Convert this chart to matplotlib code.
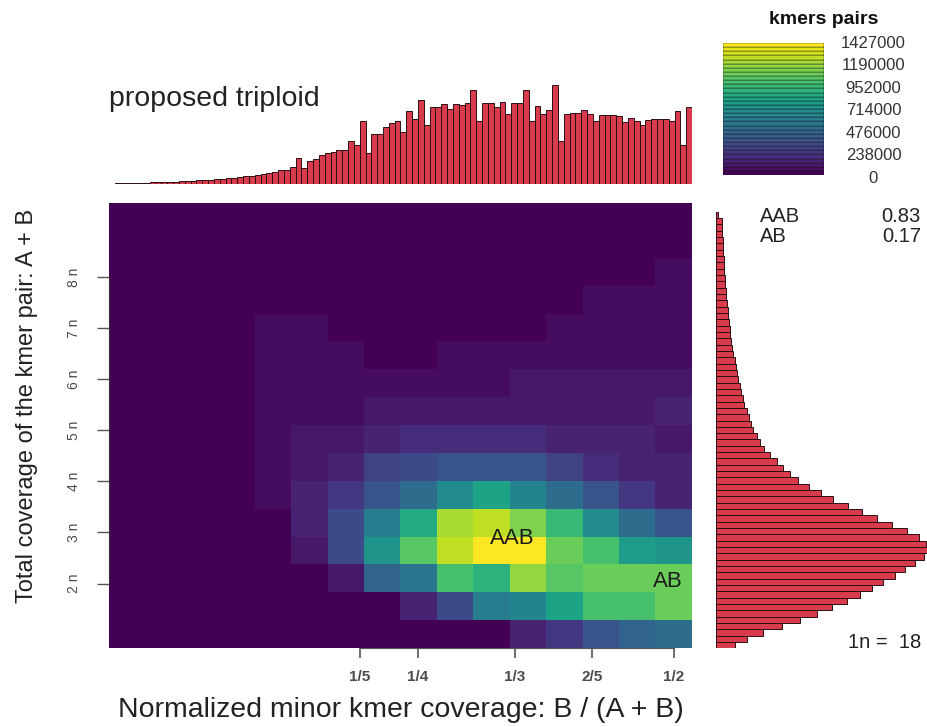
import numpy as np
import matplotlib
matplotlib.use("Agg")
import matplotlib.pyplot as plt
from matplotlib.colors import ListedColormap, BoundaryNorm

plt.rcParams['font.family'] = ['Liberation Sans', 'DejaVu Sans']

# ---------------- data ----------------
KMER_MAX = 1427000
N_1 = 18  # 1n coverage
Y_TICK_MULT = [2, 3, 4, 5, 6, 7, 8]
X_TICK_POS = [1/5, 1/4, 1/3, 2/5, 0.47]
X_TICK_LABELS = ['1/5', '1/4', '1/3', '2/5', '1/2']
X_CENTER_MIN, X_CENTER_MAX = 0.0, 0.47
Y_CENTER_MIN, Y_CENTER_MAX = 18.2, 165.1

# smudge density (fraction of max), rows from low coverage (bottom) to high (top), 16 columns of minor fraction
smudge_frac = [
    [0, 0, 0, 0, 0, 0, 0, 0, 0, 0, 0, 0.10, 0.18, 0.26, 0.32, 0.36],
    [0, 0, 0, 0, 0, 0, 0, 0, 0.10, 0.25, 0.42, 0.44, 0.58, 0.70, 0.70, 0.76],
    [0, 0, 0, 0, 0, 0, 0.065, 0.33, 0.40, 0.70, 0.65, 0.82, 0.72, 0.78, 0.78, 0.77],
    [0, 0, 0, 0, 0, 0.08, 0.24, 0.53, 0.73, 0.89, 1.00, 0.97, 0.78, 0.70, 0.55, 0.53],
    [0, 0, 0, 0, 0, 0.12, 0.25, 0.42, 0.60, 0.86, 0.88, 0.80, 0.68, 0.50, 0.37, 0.26],
    [0, 0, 0, 0, 0.05, 0.12, 0.17, 0.26, 0.35, 0.50, 0.57, 0.45, 0.36, 0.26, 0.18, 0.12],
    [0, 0, 0, 0, 0.05, 0.09, 0.12, 0.19, 0.22, 0.26, 0.26, 0.26, 0.20, 0.15, 0.11, 0.11],
    [0, 0, 0, 0, 0.05, 0.08, 0.08, 0.11, 0.14, 0.14, 0.14, 0.14, 0.11, 0.11, 0.11, 0.07],
    [0, 0, 0, 0, 0.05, 0.05, 0.05, 0.07, 0.07, 0.07, 0.07, 0.07, 0.07, 0.07, 0.07, 0.10],
    [0, 0, 0, 0, 0.045, 0.045, 0.045, 0.055, 0.055, 0.055, 0.055, 0.065, 0.065, 0.065, 0.065, 0.08],
    [0, 0, 0, 0, 0.04, 0.04, 0.04, 0, 0, 0.045, 0.045, 0.045, 0.045, 0.045, 0.045, 0.055],
    [0, 0, 0, 0, 0.04, 0.04, 0, 0, 0, 0, 0, 0, 0.04, 0.04, 0.04, 0.045],
    [0, 0, 0, 0, 0, 0, 0, 0, 0, 0, 0, 0, 0, 0.04, 0.04, 0.04],
    [0, 0, 0, 0, 0, 0, 0, 0, 0, 0, 0, 0, 0, 0, 0, 0.04],
    [0] * 16,
    [0] * 16,
]

# histogram of minor kmer fraction (top), 100 bins
top_hist = [0.5, 0.6, 0.8, 0.9, 1.0, 1.2, 1.4, 1.6, 1.8, 2.0,
            2.2, 2.5, 2.8, 3.0, 3.3, 3.6, 4.0, 4.4, 4.9, 5.3,
            5.9, 6.4, 7.0, 7.6, 8.3, 9.0, 10.0, 11.0, 12.3, 14.5,
            14.5, 17.3, 25.7, 15.7, 23.3, 24.7, 29.0, 30.7, 32.3, 34.0,
            34.0, 43.0, 39.0, 63.3, 31.3, 49.7, 50.0, 56.7, 60.7, 63.0,
            52.3, 73.3, 64.7, 84.0, 59.0, 76.7, 76.7, 79.7, 75.0, 79.7,
            79.0, 80.7, 94.0, 63.0, 80.7, 80.7, 76.7, 82.0, 69.7, 81.3,
            81.3, 94.0, 63.0, 78.0, 69.7, 74.0, 99.0, 43.3, 70.0, 70.7,
            71.3, 74.0, 70.0, 63.3, 68.7, 69.0, 68.7, 68.0, 62.0, 65.7,
            63.0, 59.3, 64.0, 65.3, 65.3, 65.3, 62.7, 73.3, 39.0, 77.3]

# histogram of total coverage (right), bins from low to high coverage
right_hist = [19.0, 30.7, 47.3, 65.7, 84.0, 100.7, 115.7, 130.7, 143.3, 155.7,
              166.7, 179.0, 189.0, 199.0, 208.0, 211.7, 210.0, 202.3, 190.7, 175.7,
              160.7, 145.7, 132.3, 117.3, 104.7, 93.3, 82.3, 74.0, 66.7, 60.7,
              54.0, 48.3, 44.0, 40.7, 37.3, 35.0, 33.0, 30.7, 28.3, 26.7,
              25.3, 23.7, 22.3, 21.0, 20.0, 18.7, 17.3, 16.3, 15.3, 14.3,
              13.7, 13.0, 12.3, 11.7, 11.0, 10.3, 9.7, 9.3, 9.0, 8.3,
              8.0, 7.7, 7.3, 7.0, 6.7, 6.3, 6.0, 5.7, 2.3]

smudge_labels = ['AAB', 'AB']
smudge_label_x = [0.331, 0.465]
smudge_label_y = [52.0, 36.8]
smudge_props = ['0.83', '0.17']
title_text = 'proposed triploid'

# ---------------- figure ----------------
W, H = 928, 727
fig = plt.figure(figsize=(W / 100, H / 100), dpi=100)


def box(x0, y0, x1, y1):
    return [x0 / W, 1 - y1 / H, (x1 - x0) / W, (y1 - y0) / H]


def fx(x):
    return x / W


def fy(y):
    return 1 - y / H


cmap = ListedColormap(plt.get_cmap('viridis')(np.linspace(0, 1, 32)))
norm = BoundaryNorm(np.linspace(0, KMER_MAX * 1.0001, 33), 32)

# main smudge heatmap
ax = fig.add_axes(box(109, 203, 692, 648))
Z = np.array(smudge_frac) * KMER_MAX
dx = (X_CENTER_MAX - X_CENTER_MIN) / (Z.shape[1] - 1)
dy = (Y_CENTER_MAX - Y_CENTER_MIN) / (Z.shape[0] - 1)
ax.imshow(Z, origin='lower', aspect='auto', cmap=cmap, norm=norm, interpolation='nearest',
          extent=[X_CENTER_MIN - dx / 2, X_CENTER_MAX + dx / 2,
                  Y_CENTER_MIN - dy / 2, Y_CENTER_MAX + dy / 2])
ax.set_xlim(X_CENTER_MIN - dx / 2, X_CENTER_MAX + dx / 2)
ax.set_ylim(Y_CENTER_MIN - dy / 2, Y_CENTER_MAX + dy / 2)
yt = [m * N_1 for m in Y_TICK_MULT]
ax.set_yticks(yt)
ax.set_yticklabels([f'{m} n' for m in Y_TICK_MULT], rotation=90, va='center',
                   fontsize=10, color='#4a4a4a')
ax.set_xticks(X_TICK_POS)
ax.set_xticklabels(X_TICK_LABELS, fontsize=11, color='#4a4a4a', fontweight='bold')
ax.tick_params(axis='y', length=9, width=1, color='#555555', pad=11)
ax.tick_params(axis='x', length=7, width=1.2, color='#555555', pad=9)
for s in ['top', 'right']:
    ax.spines[s].set_visible(False)
ax.spines['left'].set_bounds(yt[0], yt[-1])
ax.spines['left'].set_color('#333333')
ax.spines['bottom'].set_bounds(X_TICK_POS[0], X_TICK_POS[-1])
ax.spines['bottom'].set_color('#555555')
for lab, x, y in zip(smudge_labels, smudge_label_x, smudge_label_y):
    ax.text(x, y, lab, ha='center', va='center', fontsize=16, color='#1a1a1a')

fig.text(fx(27), fy(406), 'Total coverage of the kmer pair: A + B', rotation=90,
         ha='center', va='center', fontsize=17, color='#222222')
fig.text(fx(401), fy(710), 'Normalized minor kmer coverage: B / (A + B)',
         ha='center', va='center', fontsize=20.5, color='#222222')

# top histogram
axt = fig.add_axes(box(109, 85, 692, 184))
axt.bar(np.arange(len(top_hist)), top_hist, width=1, align='edge',
        color='#d83b4b', edgecolor='#2a1014', linewidth=0.7)
axt.set_xlim(0, len(top_hist))
axt.set_ylim(0, max(top_hist))
axt.axis('off')
fig.text(fx(109), fy(99), title_text, ha='left', va='center', fontsize=20.5, color='#222222')

# right histogram
axr = fig.add_axes(box(716, 211.7, 928, 648.3))
axr.barh(np.arange(len(right_hist)), right_hist, height=1, align='edge',
         color='#d83b4b', edgecolor='#2a1014', linewidth=0.7)
axr.set_ylim(0, len(right_hist))
axr.set_xlim(0, max(right_hist))
axr.axis('off')

for i, (lab, p) in enumerate(zip(smudge_labels, smudge_props)):
    yy = 217 + i * 20
    fig.text(fx(760), fy(yy), lab, ha='left', va='center', fontsize=14.5, color='#222222')
    fig.text(fx(921), fy(yy), p, ha='right', va='center', fontsize=14.5, color='#222222')
fig.text(fx(921), fy(643), f'1n =  {N_1}', ha='right', va='center', fontsize=14.5, color='#222222')

# colour legend
axl = fig.add_axes(box(723, 43, 824, 175))
for i in range(32):
    axl.bar(0, 1, bottom=i, width=1, align='edge', color=cmap(i),
            edgecolor='#111111', linewidth=0.3)
axl.set_xlim(0, 1)
axl.set_ylim(0, 32)
axl.axis('off')
step = round(KMER_MAX / 6 / 1000.0) * 1000
for k in range(7):
    v = KMER_MAX if k == 6 else k * step
    ypos = -0.73 + 32.73 * k / 6
    axl.text(1.49, ypos, f'{v}', ha='center', va='center', fontsize=12,
             color='#333333', clip_on=False)
axl.text(1.0, 37.6, 'kmers pairs', ha='center', va='center', fontsize=14,
         fontweight='bold', color='#111111', clip_on=False)

fig.savefig('out.png', dpi=100)
